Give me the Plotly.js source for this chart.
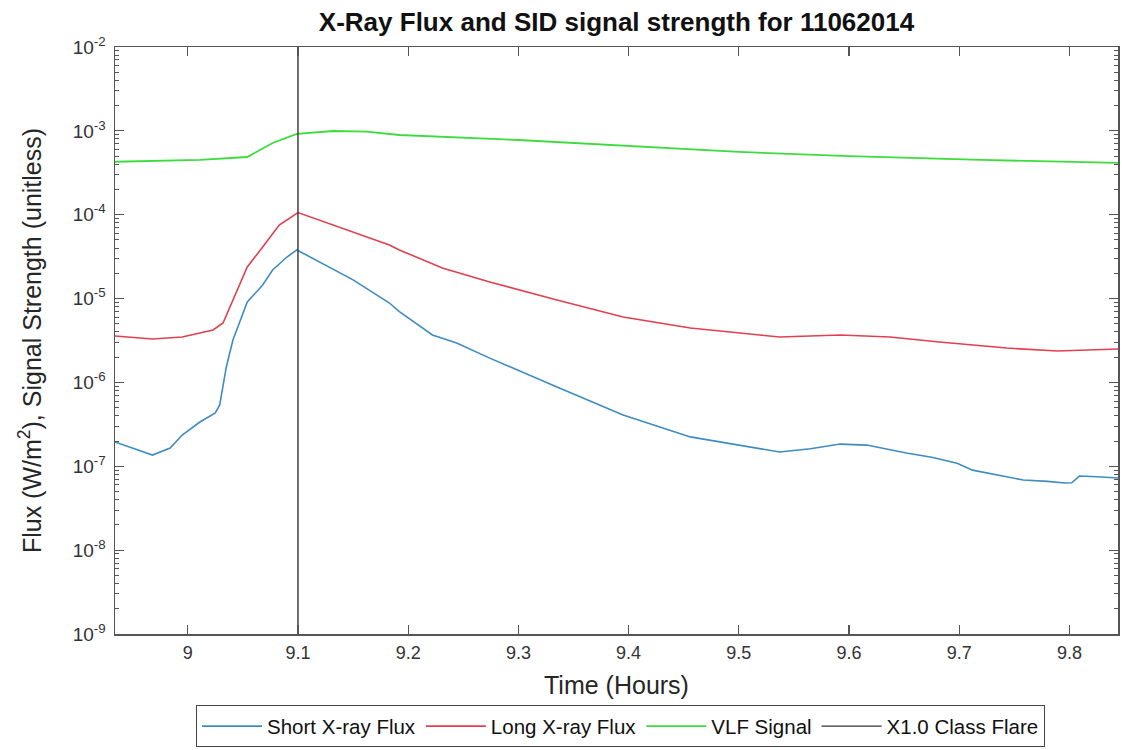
<!DOCTYPE html>
<html>
<head>
<meta charset="utf-8">
<script src="https://cdn.plot.ly/plotly-3.0.1.min.js"></script>
<style>html,body{margin:0;padding:0;background:#fff;}#chart{width:1122px;height:750px;}</style>
</head>
<body>
<div id="chart"></div>
<script>
// Short X-ray flux (W/m^2)
var shortTime = [8.934, 8.968, 8.984, 8.995, 9.011, 9.025, 9.029, 9.035, 9.041, 9.054, 9.068, 9.077, 9.090, 9.099,
  9.150, 9.183, 9.192, 9.222, 9.244, 9.274, 9.335, 9.395, 9.456, 9.501, 9.537, 9.565, 9.592, 9.616, 9.652, 9.675, 9.698,
  9.712, 9.735, 9.758, 9.780, 9.796, 9.802, 9.809, 9.825, 9.844];
var shortFlux = [1.95e-7, 1.36e-7, 1.65e-7, 2.36e-7, 3.37e-7, 4.32e-7, 5.38e-7, 1.53e-6, 3.21e-6, 9.1e-6, 1.45e-5, 2.19e-5, 3.13e-5, 3.8e-5,
  1.67e-5, 8.85e-6, 6.97e-6, 3.68e-6, 2.95e-6, 1.95e-6, 8.82e-7, 4.09e-7, 2.24e-7, 1.79e-7, 1.48e-7, 1.62e-7, 1.84e-7, 1.79e-7, 1.44e-7, 1.28e-7, 1.09e-7,
  9.0e-8, 7.9e-8, 6.87e-8, 6.6e-8, 6.32e-8, 6.35e-8, 7.65e-8, 7.5e-8, 7.24e-8];

// Long X-ray flux (W/m^2)
var longTime = [8.934, 8.968, 8.995, 9.023, 9.032, 9.041, 9.054, 9.068, 9.083, 9.100,
  9.150, 9.183, 9.192, 9.231, 9.274, 9.335, 9.395, 9.456, 9.519, 9.537, 9.592, 9.637, 9.682, 9.743, 9.789, 9.844];
var longFlux = [3.58e-6, 3.30e-6, 3.48e-6, 4.22e-6, 5.11e-6, 9.6e-6, 2.38e-5, 4.12e-5, 7.54e-5, 1.06e-4,
  6.22e-5, 4.36e-5, 3.8e-5, 2.32e-5, 1.58e-5, 9.6e-6, 6.03e-6, 4.46e-6, 3.68e-6, 3.48e-6, 3.68e-6, 3.48e-6, 3.03e-6, 2.57e-6, 2.37e-6, 2.50e-6];

// VLF signal strength (unitless)
var vlfTime = [8.934, 9.011, 9.054, 9.077, 9.099, 9.132, 9.162, 9.192, 9.300, 9.400, 9.500, 9.600, 9.720, 9.844];
var vlfSignal = [4.28e-4, 4.5e-4, 4.88e-4, 7.16e-4, 9.18e-4, 9.96e-4, 9.77e-4, 8.93e-4, 7.78e-4, 6.59e-4, 5.6e-4, 5.01e-4, 4.5e-4, 4.14e-4];

// X1.0 class flare marker
var flareTime = [9.1, 9.1];
var flareY = [1e-9, 1e-2];

var xTicks = [9, 9.1, 9.2, 9.3, 9.4, 9.5, 9.6, 9.7, 9.8];
var xTickText = ['9', '9.1', '9.2', '9.3', '9.4', '9.5', '9.6', '9.7', '9.8'];
var yMajor = [1e-9, 1e-8, 1e-7, 1e-6, 1e-5, 1e-4, 1e-3, 1e-2];
var yMajorText = ['10<sup>-9</sup>', '10<sup>-8</sup>', '10<sup>-7</sup>', '10<sup>-6</sup>', '10<sup>-5</sup>', '10<sup>-4</sup>', '10<sup>-3</sup>', '10<sup>-2</sup>'];
var yMinor = [];
for (var e = -9; e < -2; e++) { for (var m = 2; m <= 9; m++) { yMinor.push(m * Math.pow(10, e)); } }

var axisColor = '#555555';
var font = 'Liberation Sans, Arial, sans-serif';

var traces = [
  {x: shortTime, y: shortFlux, type: 'scatter', mode: 'lines', name: 'Short X-ray Flux', line: {color: '#3f8cc0', width: 1.6}},
  {x: longTime, y: longFlux, type: 'scatter', mode: 'lines', name: 'Long X-ray Flux', line: {color: '#e0404f', width: 1.6}},
  {x: vlfTime, y: vlfSignal, type: 'scatter', mode: 'lines', name: 'VLF Signal', line: {color: '#3ddc3d', width: 1.8}},
  {x: flareTime, y: flareY, type: 'scatter', mode: 'lines', name: 'X1.0 Class Flare', line: {color: '#333333', width: 1.4}}
];

var layout = {
  width: 1122, height: 750,
  paper_bgcolor: '#ffffff', plot_bgcolor: '#ffffff',
  margin: {l: 115, r: 4, t: 47, b: 116, autoexpand: false},
  font: {family: font, color: '#262626'},
  title: {text: '<b>X-Ray Flux and SID signal strength for 11062014</b>', font: {size: 26, color: '#111111', family: font},
    x: 0.5, xanchor: 'center', xref: 'paper', y: 0.971, yanchor: 'middle'},
  xaxis: {
    range: [8.934, 9.844], tickvals: xTicks, ticktext: xTickText,
    ticks: 'inside', ticklen: 9, tickwidth: 1.2, tickcolor: axisColor,
    showline: true, linecolor: axisColor, linewidth: 1.5, mirror: 'ticks',
    showgrid: false, zeroline: false, ticklabelstandoff: 2,
    tickfont: {size: 18, color: '#333333'},
    title: {text: 'Time (Hours)', font: {size: 25, color: '#262626'}, standoff: 14}
  },
  yaxis: {
    type: 'log', range: [-9, -2], tickvals: yMajor, ticktext: yMajorText,
    ticks: 'inside', ticklen: 9, tickwidth: 1.2, tickcolor: axisColor,
    showline: true, linecolor: axisColor, linewidth: 1.5, mirror: 'ticks',
    showgrid: false, zeroline: false, ticklabelstandoff: 4,
    minor: {tickvals: yMinor, ticks: 'inside', ticklen: 4, tickwidth: 1, tickcolor: axisColor, showgrid: false},
    tickfont: {size: 19, color: '#333333'},
    title: {text: 'Flux (W/m<sup>2</sup>), Signal Strength (unitless)', font: {size: 25, color: '#262626'}, standoff: 24}
  },
  showlegend: true,
  legend: {
    orientation: 'h', x: 0.504, xanchor: 'center', y: -0.193, yanchor: 'bottom',
    bordercolor: '#444444', borderwidth: 1, bgcolor: '#ffffff',
    font: {size: 20.5, color: '#111111'}, itemwidth: 60, tracegroupgap: 0
  }
};

Plotly.newPlot('chart', traces, layout, {displayModeBar: false, staticPlot: true});
</script>
</body>
</html>
